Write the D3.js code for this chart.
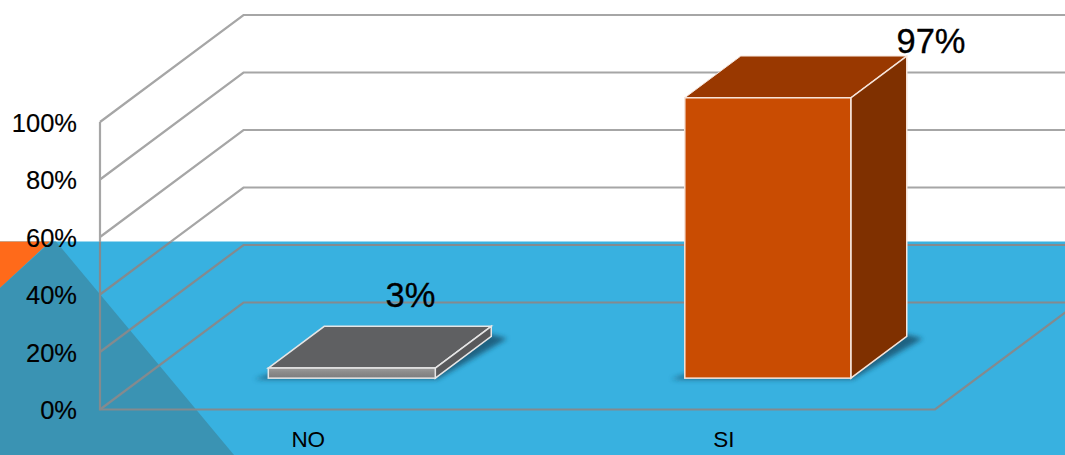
<!DOCTYPE html>
<html><head><meta charset="utf-8">
<script src="https://cdnjs.cloudflare.com/ajax/libs/d3/7.8.5/d3.min.js"></script>
<style>html,body{margin:0;padding:0;background:#fff;overflow:hidden}svg{display:block}text{font-family:"Liberation Sans",Arial,sans-serif;fill:#000}</style>
</head><body><div id="c"></div>
<script>
const categories = ["NO", "SI"];
const values = [3, 97];
const valueLabels = ["3%", "97%"];
const yTicks = [0, 20, 40, 60, 80, 100];
const barFront = ["#858687", "#C94C02"];
const barTop = ["#5F6062", "#993800"];
const barSide = ["#58595B", "#7F3000"];
const barEdge = ["#e6e6e6", "#f6e4da"];

const W = 1065, H = 455, dx = 143.5, dy = 107;
const svg = d3.select("#c").append("svg").attr("width", W).attr("height", H);
const defs = svg.append("defs");
defs.append("clipPath").attr("id", "top").append("rect").attr("width", W).attr("height", 241.5);
defs.append("clipPath").attr("id", "bot").append("rect").attr("y", 241.5).attr("width", W).attr("height", H);
defs.append("filter").attr("id", "blur").attr("x", "-20%").attr("y", "-40%").attr("width", "140%").attr("height", "180%")
  .append("feGaussianBlur").attr("stdDeviation", 2.6);
const fg = defs.append("linearGradient").attr("id", "frontGray").attr("x1", 0).attr("y1", 0).attr("x2", 0).attr("y2", 1);
fg.append("stop").attr("offset", 0).attr("stop-color", "#9c9c9c");
fg.append("stop").attr("offset", 0.45).attr("stop-color", "#8a8a8a");
fg.append("stop").attr("offset", 1).attr("stop-color", "#7c7c7e");

const y = d3.scaleLinear().domain([0, 100]).range([409.5, 122]);
const x = d3.scaleBand().domain(categories).range([100, 935]).paddingInner(0).paddingOuter(0);

// page background
svg.append("rect").attr("y", 241.5).attr("width", W).attr("height", H - 241.5).attr("fill", "#38B1E0");
svg.append("path").attr("d", d3.line()([[0,241.5],[50,241.5],[0,288]])).attr("fill", "#FF6A1A");
svg.append("path").attr("d", d3.line()([[0,288],[51,241.5],[56,241.5],[234,455],[0,455]])).attr("fill", "#3A93B3");

// 3D frame
function gridPath(v){ const p = y(v); return d3.line()([[100,p],[100+dx,p-dy],[W+2,p-dy]]); }
function frame(g, color, width){
  g.selectAll(".grid").data(yTicks.filter(v => v > 0)).join("path").attr("class","grid")
    .attr("d", gridPath).attr("fill","none").attr("stroke",color).attr("stroke-width",width);
  g.append("path").attr("d", d3.line()([[100,y(100)],[100,y(0)],[935,y(0)],[935+dx,y(0)-dy]]))
    .attr("fill","none").attr("stroke",color).attr("stroke-width",width);
  g.append("path").attr("d", d3.line()([[100,y(0)],[100+dx,y(0)-dy],[W+2,y(0)-dy]]))
    .attr("fill","none").attr("stroke",color).attr("stroke-width",width);
}
frame(svg.append("g").attr("clip-path","url(#top)"), "#a6a6a6", 2.2);
frame(svg.append("g").attr("clip-path","url(#bot)"), "#848a8e", 2.2);

// bars
const bw = x.bandwidth() * 0.4, base = 0.293, depth = 0.39, capExtra = 1.5;
const bars = svg.append("g");
categories.forEach((c, i) => {
  const xl = x(c) + x.bandwidth()/2 - bw/2 + dx*base + 1 - i;
  const xr = xl + bw - i, ox = dx*depth, oy = dy*depth;
  const bottom = y(0) - dy*base, top = bottom - (y(0) - y(values[i])) - capExtra;
  const g = bars.append("g");
  g.append("path").attr("filter","url(#blur)").attr("fill","#1c5f7e").attr("opacity",0.95)
    .attr("d", d3.line()([[xl-14,bottom+1],[xr+2,bottom+1],[xr+ox+16,bottom-oy+2],[xr+ox-4,bottom-oy-3],[xl+20,bottom-10]]));
  const stroke = barEdge[i];
  g.append("path").attr("fill",barTop[i]).attr("stroke",stroke).attr("stroke-width",i?1:1.5)
    .attr("d", d3.line()([[xl,top],[xl+ox,top-oy],[xr+ox,top-oy],[xr,top]])+"Z");
  g.append("path").attr("fill",barSide[i]).attr("stroke",stroke).attr("stroke-width",1.5)
    .attr("d", d3.line()([[xr,top],[xr+ox,top-oy],[xr+ox,bottom-oy],[xr,bottom]])+"Z");
  g.append("rect").attr("x",xl).attr("y",top).attr("width",xr-xl).attr("height",bottom-top)
    .attr("fill", i ? barFront[i] : "url(#frontGray)").attr("stroke",stroke).attr("stroke-width",1.5);
});

// axes (labels only)
const ya = svg.append("g").attr("transform","translate(100,0)")
  .call(d3.axisLeft(y).tickValues(yTicks).tickFormat(d => d + "%").tickSize(0).tickPadding(23));
ya.select(".domain").remove();
ya.selectAll("text").style("font-size","25.5px").attr("fill","#000")
  .attr("dy","0.36em").attr("stroke","#000").attr("stroke-width",0.15);
const xa = svg.append("g").attr("transform","translate(0,431)")
  .call(d3.axisBottom(x).tickSize(0).tickPadding(0));
xa.select(".domain").remove();
xa.selectAll("text").style("font-size","22.5px").attr("fill","#000").attr("dy","0.71em")
  .attr("dx",(d,i)=> i ? -2.5 : -0.5);

// value labels
const labelPos = [[410.5,307],[931,53]];
svg.append("g").selectAll("text").data(valueLabels).join("text")
  .attr("x",(d,i)=>labelPos[i][0]).attr("y",(d,i)=>labelPos[i][1])
  .attr("text-anchor","middle").attr("stroke","#000").attr("stroke-width",0.3)
  .style("font-size","34.5px").text(d=>d);
</script></body></html>
